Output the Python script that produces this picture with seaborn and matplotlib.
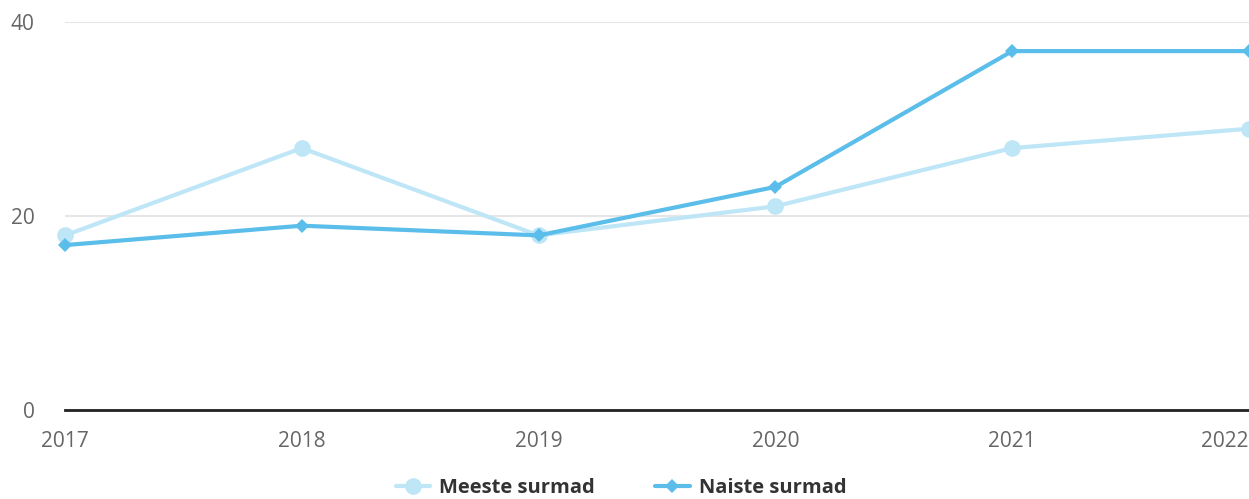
import matplotlib
matplotlib.use("Agg")
import matplotlib.pyplot as plt
import seaborn as sns
import pandas as pd
from matplotlib.lines import Line2D

years = [2017, 2018, 2019, 2020, 2021, 2022]
meeste = [18, 27, 18, 21, 27, 29]
naiste = [17, 19, 18, 23, 37, 37]
series_names = ["Meeste surmad", "Naiste surmad"]
y_ticks = [0, 20, 40]

sns.set_theme(style="white")
plt.rcParams['font.family'] = ['Open Sans', 'DejaVu Sans']

df = pd.DataFrame({"year": years * 2,
                   "value": meeste + naiste,
                   "series": [series_names[0]] * len(years) + [series_names[1]] * len(years)})

colors = {series_names[0]: "#bee6f7", series_names[1]: "#5bbde9"}
markers = {series_names[0]: "o", series_names[1]: "D"}
msizes = {series_names[0]: 12, series_names[1]: 7.5}

fig = plt.figure(figsize=(12.49, 4.99), dpi=100)
ax = fig.add_axes([65/1249, 89/499, 1 - 65/1249, (410-22)/499])

for name in series_names:
    sub = df[df.series == name]
    sns.lineplot(data=sub, x="year", y="value", ax=ax, color=colors[name],
                 linewidth=3, marker=markers[name], markersize=msizes[name],
                 markeredgewidth=0, legend=False, clip_on=False, zorder=3)

ax.set_xlim(2017, 2022)
ax.set_ylim(0, 40)
ax.set_yticks(y_ticks)
ax.set_xticks(years)
ax.set_xticklabels([str(y) for y in years])
ax.yaxis.grid(True, color="#e6e6e6", linewidth=1.5)
ax.xaxis.grid(False)
for s in ["left", "right", "top"]:
    ax.spines[s].set_visible(False)
ax.spines["bottom"].set_color("#222222")
ax.spines["bottom"].set_linewidth(2)
ax.spines["bottom"].set_zorder(4)
ax.tick_params(axis="y", length=0, pad=22, labelsize=15, labelcolor="#666666")
ax.tick_params(axis="x", length=0, pad=15, labelsize=15, labelcolor="#666666")
ax.get_xticklabels()[-1].set_horizontalalignment("right")
ax.set_xlabel("")
ax.set_ylabel("")

handles = [Line2D([0], [0], color=colors[n], linewidth=3, marker=markers[n],
                  markersize=msizes[n], markeredgewidth=0) for n in series_names]
leg = fig.legend(handles, series_names, loc="center", bbox_to_anchor=(621/1249, 1 - 488/499),
                 ncol=2, frameon=False, handlelength=1.7, columnspacing=3.0,
                 handletextpad=0.45, prop={"weight": "bold", "size": 14.5})
for t in leg.get_texts():
    t.set_color("#333333")

fig.savefig("out.png", dpi=100)
